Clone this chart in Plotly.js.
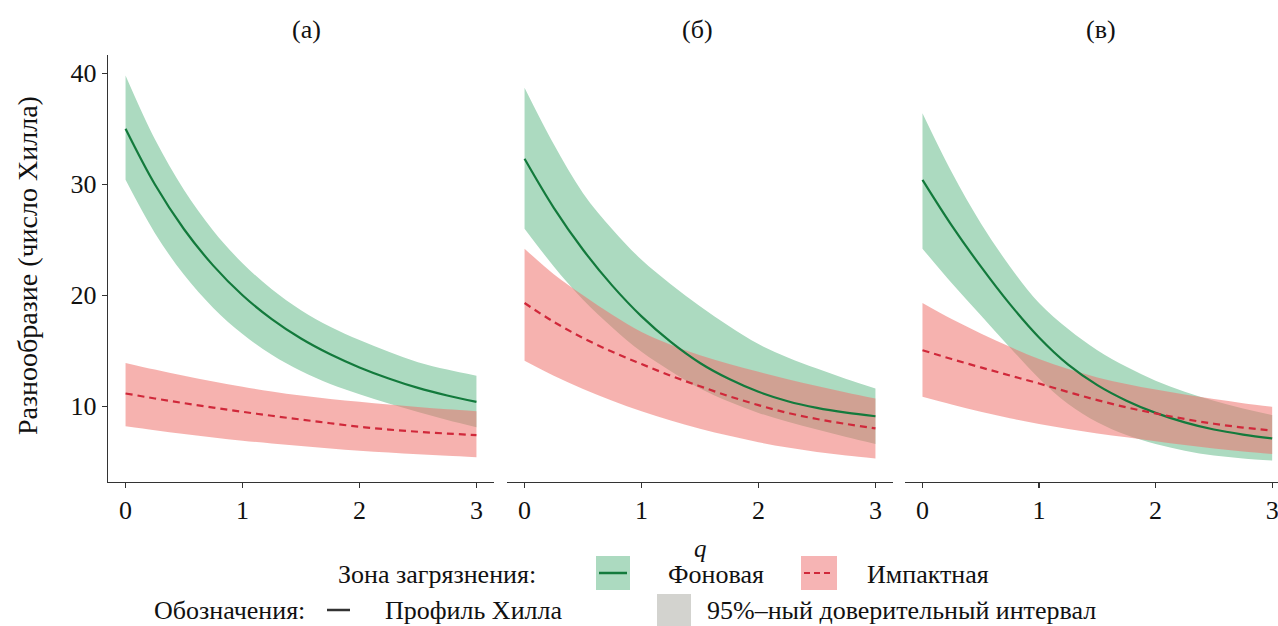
<!DOCTYPE html>
<html>
<head>
<meta charset="utf-8">
<script src="https://cdn.plot.ly/plotly-3.0.1.min.js"></script>
<style>
html,body{margin:0;padding:0;background:#fff;overflow:hidden;}
#chart{width:1278px;height:626px;}
</style>
</head>
<body>
<div id="chart"></div>
<script>
// q values (order of Hill number)
const qVals = [0, 0.25, 0.5, 0.75, 1, 1.25, 1.5, 1.75, 2, 2.25, 2.5, 2.75, 3];
const xTicks = [0, 1, 2, 3];
const yTicks = [10, 20, 30, 40];
const panelTitles = ["(а)", "(б)", "(в)"];

// Panel (а)
const fonA_mean = [35.0, 30.0, 25.95, 22.67, 20.0, 17.85, 16.1, 14.68, 13.5, 12.5, 11.65, 10.97, 10.4];
const fonA_hi   = [39.8, 34.07, 29.49, 25.82, 22.89, 20.54, 18.66, 17.16, 15.96, 14.9, 13.97, 13.3, 12.75];
const fonA_lo   = [30.4, 25.62, 21.84, 18.86, 16.5, 14.64, 13.17, 12.01, 11.09, 10.24, 9.48, 8.76, 8.1];
const impA_mean = [11.15, 10.7, 10.28, 9.88, 9.5, 9.14, 8.8, 8.47, 8.15, 7.9, 7.7, 7.54, 7.4];
const impA_hi   = [13.9, 13.3, 12.74, 12.22, 11.75, 11.33, 10.96, 10.65, 10.4, 10.15, 9.92, 9.72, 9.55];
const impA_lo   = [8.2, 7.84, 7.5, 7.19, 6.9, 6.65, 6.42, 6.2, 6.0, 5.83, 5.67, 5.53, 5.4];

// Panel (б)
const fonB_mean = [32.3, 27.88, 24.1, 20.87, 18.1, 15.8, 13.9, 12.45, 11.3, 10.45, 9.85, 9.42, 9.1];
const fonB_hi   = [38.7, 33.6, 29.2, 25.95, 23.2, 21.0, 19.0, 17.2, 15.6, 14.4, 13.4, 12.45, 11.6];
const fonB_lo   = [26.0, 22.6, 19.6, 17.1, 14.9, 13.15, 11.6, 10.4, 9.4, 8.6, 7.9, 7.22, 6.6];
const impB_mean = [19.3, 17.6, 16.15, 14.9, 13.8, 12.75, 11.8, 10.9, 10.1, 9.4, 8.85, 8.4, 8.0];
const impB_hi   = [24.2, 21.9, 20.0, 18.25, 16.7, 15.55, 14.6, 13.8, 13.1, 12.44, 11.82, 11.24, 10.7];
const impB_lo   = [14.1, 12.75, 11.55, 10.5, 9.55, 8.72, 7.98, 7.33, 6.76, 6.28, 5.88, 5.56, 5.3];

// Panel (в)
const fonC_mean = [30.4, 26.3, 22.6, 19.2, 16.2, 13.75, 11.9, 10.5, 9.4, 8.55, 7.9, 7.45, 7.1];
const fonC_hi   = [36.4, 31.1, 26.5, 22.6, 19.3, 16.95, 15.05, 13.55, 12.3, 11.3, 10.5, 9.8, 9.2];
const fonC_lo   = [24.2, 21.1, 18.2, 15.3, 12.5, 10.2, 8.55, 7.4, 6.6, 6.0, 5.55, 5.3, 5.1];
const impC_mean = [15.05, 14.25, 13.5, 12.77, 12.05, 11.28, 10.55, 9.9, 9.35, 8.85, 8.42, 8.08, 7.8];
const impC_hi   = [19.3, 17.85, 16.55, 15.35, 14.25, 13.35, 12.6, 12.0, 11.5, 11.05, 10.65, 10.28, 9.95];
const impC_lo   = [10.85, 10.15, 9.5, 8.92, 8.4, 7.95, 7.55, 7.2, 6.85, 6.5, 6.2, 5.93, 5.7];

const FONT = 'Liberation Serif, Times New Roman, serif';
const GREEN_FILL = '#acdac0';
const PINK_FILL = 'rgba(239,115,110,0.55)';
const PINK_KEY = '#f6b4b4';
const GREEN_LINE = '#137a3c';
const RED_LINE = '#d0283a';

const panels = [
  {xa: 'x',  fm: fonA_mean, fh: fonA_hi, fl: fonA_lo, im: impA_mean, ih: impA_hi, il: impA_lo},
  {xa: 'x2', fm: fonB_mean, fh: fonB_hi, fl: fonB_lo, im: impB_mean, ih: impB_hi, il: impB_lo},
  {xa: 'x3', fm: fonC_mean, fh: fonC_hi, fl: fonC_lo, im: impC_mean, ih: impC_hi, il: impC_lo}
];

const traces = [];
panels.forEach(p => {
  const base = {x: qVals, xaxis: p.xa, yaxis: 'y', mode: 'lines', showlegend: false, hoverinfo: 'skip'};
  traces.push(Object.assign({}, base, {y: p.fl, line: {width: 0, shape: 'spline', color: GREEN_FILL}}));
  traces.push(Object.assign({}, base, {y: p.fh, fill: 'tonexty', fillcolor: GREEN_FILL, line: {width: 0, shape: 'spline', color: GREEN_FILL}}));
  traces.push(Object.assign({}, base, {y: p.il, line: {width: 0, shape: 'spline', color: PINK_FILL}}));
  traces.push(Object.assign({}, base, {y: p.ih, fill: 'tonexty', fillcolor: PINK_FILL, line: {width: 0, shape: 'spline', color: PINK_FILL}}));
});
panels.forEach(p => {
  const base = {x: qVals, xaxis: p.xa, yaxis: 'y', mode: 'lines', showlegend: false, hoverinfo: 'skip'};
  traces.push(Object.assign({}, base, {y: p.fm, line: {width: 2.2, shape: 'spline', color: GREEN_LINE}}));
  traces.push(Object.assign({}, base, {y: p.im, line: {width: 2.2, shape: 'spline', color: RED_LINE, dash: '7px,5px'}}));
});

const W = 1278, H = 626;
const px = v => v / W;
const py = v => 1 - v / H;

function xax(d0, d1, r1) {
  return {
    domain: [px(d0), px(d1)], range: [-0.15, r1], anchor: 'y',
    tickvals: xTicks, ticktext: xTicks.map(String),
    showline: true, linecolor: '#333', linewidth: 1.2,
    ticks: 'outside', ticklen: 5, tickcolor: '#333', tickwidth: 1.2,
    tickfont: {family: FONT, size: 26, color: '#111'},
    ticklabeloverflow: 'allow',
    showgrid: false, zeroline: false, fixedrange: true
  };
}

const txt = (text, x, y, opts) => Object.assign({
  text: text, x: px(x), y: py(y), xref: 'paper', yref: 'paper', showarrow: false,
  xanchor: 'left', yanchor: 'middle', font: {family: FONT, size: 26, color: '#111'}
}, opts || {});

const layout = {
  width: W, height: H,
  margin: {l: 0, r: 0, t: 0, b: 0},
  paper_bgcolor: '#fff', plot_bgcolor: '#fff',
  showlegend: false,
  xaxis: xax(108, 494, 3.15),
  xaxis2: xax(507, 893, 3.15),
  xaxis3: xax(905, 1278, 3.05),
  yaxis: {
    domain: [py(481.7), py(55)], range: [3.2, 41.65], anchor: 'x',
    tickvals: yTicks, ticktext: yTicks.map(String),
    showline: true, linecolor: '#333', linewidth: 1.2,
    ticks: 'outside', ticklen: 5, tickcolor: '#333', tickwidth: 1.2,
    tickfont: {family: FONT, size: 26, color: '#111'},
    showgrid: false, zeroline: false, fixedrange: true
  },
  annotations: [
    txt(panelTitles[0], 306, 30, {xanchor: 'center'}),
    txt(panelTitles[1], 697, 30, {xanchor: 'center'}),
    txt(panelTitles[2], 1101, 30, {xanchor: 'center'}),
    txt('Разнообразие (число Хилла)', 27, 266, {xanchor: 'center', textangle: -90, font: {family: FONT, size: 28, color: '#111'}}),
    txt('<i>q</i>', 700, 548, {xanchor: 'center', font: {family: FONT, size: 25, color: '#111'}}),
    txt('Зона загрязнения:', 336, 574),
    txt('Фоновая', 666, 574),
    txt('Импактная', 865, 574),
    txt('Обозначения:', 152, 610),
    txt('Профиль Хилла', 383, 610),
    txt('95%–ный доверительный интервал', 705, 610)
  ],
  shapes: [
    {type: 'rect', xref: 'paper', yref: 'paper', x0: px(596), x1: px(630), y0: py(590), y1: py(556), fillcolor: GREEN_FILL, line: {width: 0}},
    {type: 'line', xref: 'paper', yref: 'paper', x0: px(599), x1: px(627), y0: py(573), y1: py(573), line: {color: GREEN_LINE, width: 2.5}},
    {type: 'rect', xref: 'paper', yref: 'paper', x0: px(801), x1: px(837), y0: py(590), y1: py(556), fillcolor: PINK_KEY, line: {width: 0}},
    {type: 'line', xref: 'paper', yref: 'paper', x0: px(804), x1: px(834), y0: py(573), y1: py(573), line: {color: RED_LINE, width: 2.2, dash: '6px,4px'}},
    {type: 'line', xref: 'paper', yref: 'paper', x0: px(327), x1: px(350), y0: py(610), y1: py(610), line: {color: '#333', width: 2.5}},
    {type: 'rect', xref: 'paper', yref: 'paper', x0: px(657), x1: px(691), y0: py(626), y1: py(594), fillcolor: '#d3d3cf', line: {width: 0}}
  ]
};

Plotly.newPlot('chart', traces, layout, {displayModeBar: false, staticPlot: true});
</script>
</body>
</html>
